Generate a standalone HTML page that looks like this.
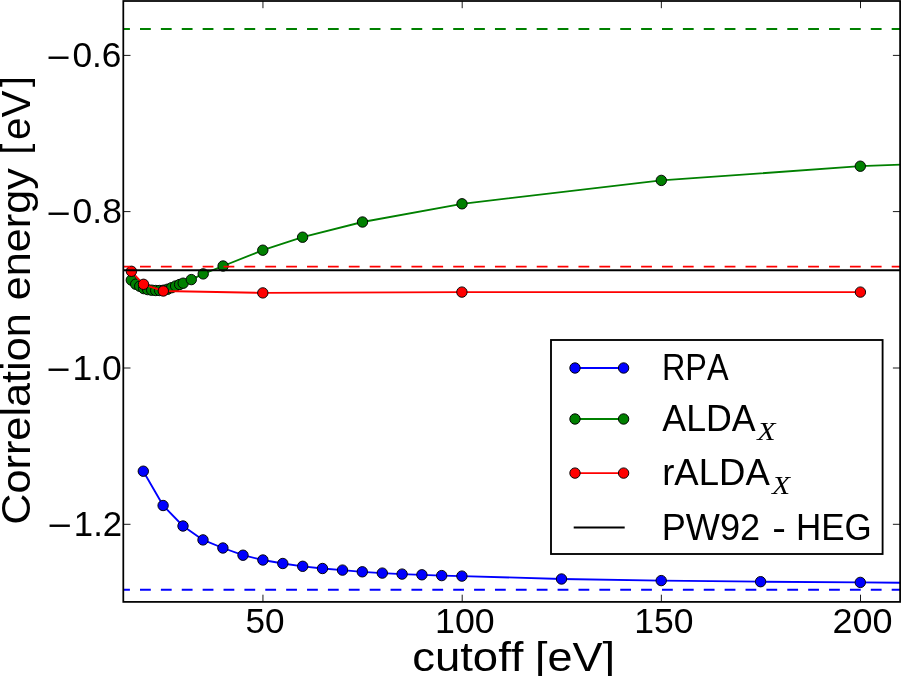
<!DOCTYPE html>
<html><head><meta charset="utf-8"><title>Correlation energy vs cutoff</title>
<style>html,body{margin:0;padding:0;background:#fff;width:901px;height:676px;overflow:hidden}svg{display:block;will-change:transform}text{font-kerning:none;font-feature-settings:"kern" 0}</style>
</head><body>
<svg width="901" height="676" viewBox="0 0 901 676"><rect width="901" height="676" fill="#fff"/>
<defs><clipPath id="ax"><rect x="123.3" y="1.0" width="776.80" height="600.90"/></clipPath></defs>
<g clip-path="url(#ax)">
<path d="M143.3,471.2 L163.1,505.5 L183.0,526.0 L203.0,539.9 L222.9,548.0 L243.0,555.2 L262.9,560.0 L282.8,563.5 L302.7,566.3 L322.5,568.5 L342.5,570.1 L362.3,571.8 L382.3,573.1 L402.1,574.1 L421.9,574.8 L441.7,575.6 L461.9,576.1 L561.5,579.0 L661.2,580.6 L760.6,581.7 L860.3,582.4 L940.0,583.0" fill="none" stroke="#0000ff" stroke-width="1.85" stroke-linejoin="round" stroke-linecap="butt"/>
<circle cx="143.3" cy="471.2" r="5.2" fill="#0000ff" stroke="#000" stroke-width="0.95"/><circle cx="163.1" cy="505.5" r="5.2" fill="#0000ff" stroke="#000" stroke-width="0.95"/><circle cx="183.0" cy="526.0" r="5.2" fill="#0000ff" stroke="#000" stroke-width="0.95"/><circle cx="203.0" cy="539.9" r="5.2" fill="#0000ff" stroke="#000" stroke-width="0.95"/><circle cx="222.9" cy="548.0" r="5.2" fill="#0000ff" stroke="#000" stroke-width="0.95"/><circle cx="243.0" cy="555.2" r="5.2" fill="#0000ff" stroke="#000" stroke-width="0.95"/><circle cx="262.9" cy="560.0" r="5.2" fill="#0000ff" stroke="#000" stroke-width="0.95"/><circle cx="282.8" cy="563.5" r="5.2" fill="#0000ff" stroke="#000" stroke-width="0.95"/><circle cx="302.7" cy="566.3" r="5.2" fill="#0000ff" stroke="#000" stroke-width="0.95"/><circle cx="322.5" cy="568.5" r="5.2" fill="#0000ff" stroke="#000" stroke-width="0.95"/><circle cx="342.5" cy="570.1" r="5.2" fill="#0000ff" stroke="#000" stroke-width="0.95"/><circle cx="362.3" cy="571.8" r="5.2" fill="#0000ff" stroke="#000" stroke-width="0.95"/><circle cx="382.3" cy="573.1" r="5.2" fill="#0000ff" stroke="#000" stroke-width="0.95"/><circle cx="402.1" cy="574.1" r="5.2" fill="#0000ff" stroke="#000" stroke-width="0.95"/><circle cx="421.9" cy="574.8" r="5.2" fill="#0000ff" stroke="#000" stroke-width="0.95"/><circle cx="441.7" cy="575.6" r="5.2" fill="#0000ff" stroke="#000" stroke-width="0.95"/><circle cx="461.9" cy="576.1" r="5.2" fill="#0000ff" stroke="#000" stroke-width="0.95"/><circle cx="561.5" cy="579.0" r="5.2" fill="#0000ff" stroke="#000" stroke-width="0.95"/><circle cx="661.2" cy="580.6" r="5.2" fill="#0000ff" stroke="#000" stroke-width="0.95"/><circle cx="760.6" cy="581.7" r="5.2" fill="#0000ff" stroke="#000" stroke-width="0.95"/><circle cx="860.3" cy="582.4" r="5.2" fill="#0000ff" stroke="#000" stroke-width="0.95"/>
<line x1="98.24" y1="589.7" x2="940" y2="589.7" stroke="#0000ff" stroke-width="1.85" stroke-dasharray="10.8 10.08"/>
<path d="M131.3,280.1 L135.7,284.2 L139.7,286.2 L143.7,288.6 L147.7,289.6 L151.7,290.2 L155.7,290.5 L159.6,290.5 L163.6,290.2 L167.6,289.2 L171.6,287.7 L175.6,286.0 L179.6,284.5 L183.2,283.2 L191.3,279.6 L203.2,273.9 L223.1,266.0 L262.8,250.2 L302.6,237.2 L362.5,222.0 L462.0,203.8 L661.3,180.4 L860.3,166.2 L940.0,163.2" fill="none" stroke="#008000" stroke-width="1.85" stroke-linejoin="round" stroke-linecap="butt"/>
<circle cx="131.3" cy="280.1" r="5.2" fill="#008000" stroke="#000" stroke-width="0.95"/><circle cx="135.7" cy="284.2" r="5.2" fill="#008000" stroke="#000" stroke-width="0.95"/><circle cx="139.7" cy="286.2" r="5.2" fill="#008000" stroke="#000" stroke-width="0.95"/><circle cx="143.7" cy="288.6" r="5.2" fill="#008000" stroke="#000" stroke-width="0.95"/><circle cx="147.7" cy="289.6" r="5.2" fill="#008000" stroke="#000" stroke-width="0.95"/><circle cx="151.7" cy="290.2" r="5.2" fill="#008000" stroke="#000" stroke-width="0.95"/><circle cx="155.7" cy="290.5" r="5.2" fill="#008000" stroke="#000" stroke-width="0.95"/><circle cx="159.6" cy="290.5" r="5.2" fill="#008000" stroke="#000" stroke-width="0.95"/><circle cx="163.6" cy="290.2" r="5.2" fill="#008000" stroke="#000" stroke-width="0.95"/><circle cx="167.6" cy="289.2" r="5.2" fill="#008000" stroke="#000" stroke-width="0.95"/><circle cx="171.6" cy="287.7" r="5.2" fill="#008000" stroke="#000" stroke-width="0.95"/><circle cx="175.6" cy="286.0" r="5.2" fill="#008000" stroke="#000" stroke-width="0.95"/><circle cx="179.6" cy="284.5" r="5.2" fill="#008000" stroke="#000" stroke-width="0.95"/><circle cx="183.2" cy="283.2" r="5.2" fill="#008000" stroke="#000" stroke-width="0.95"/><circle cx="191.3" cy="279.6" r="5.2" fill="#008000" stroke="#000" stroke-width="0.95"/><circle cx="203.2" cy="273.9" r="5.2" fill="#008000" stroke="#000" stroke-width="0.95"/><circle cx="223.1" cy="266.0" r="5.2" fill="#008000" stroke="#000" stroke-width="0.95"/><circle cx="262.8" cy="250.2" r="5.2" fill="#008000" stroke="#000" stroke-width="0.95"/><circle cx="302.6" cy="237.2" r="5.2" fill="#008000" stroke="#000" stroke-width="0.95"/><circle cx="362.5" cy="222.0" r="5.2" fill="#008000" stroke="#000" stroke-width="0.95"/><circle cx="462.0" cy="203.8" r="5.2" fill="#008000" stroke="#000" stroke-width="0.95"/><circle cx="661.3" cy="180.4" r="5.2" fill="#008000" stroke="#000" stroke-width="0.95"/><circle cx="860.3" cy="166.2" r="5.2" fill="#008000" stroke="#000" stroke-width="0.95"/>
<line x1="98.24" y1="29.0" x2="940" y2="29.0" stroke="#008000" stroke-width="1.85" stroke-dasharray="10.8 10.08"/>
<path d="M131.4,271.3 L143.5,284.3 L163.3,291.0 L262.8,292.9 L461.9,292.1 L860.4,292.1" fill="none" stroke="#ff0000" stroke-width="1.85" stroke-linejoin="round" stroke-linecap="butt"/>
<circle cx="131.4" cy="271.3" r="5.2" fill="#ff0000" stroke="#000" stroke-width="0.95"/><circle cx="143.5" cy="284.3" r="5.2" fill="#ff0000" stroke="#000" stroke-width="0.95"/><circle cx="163.3" cy="291.0" r="5.2" fill="#ff0000" stroke="#000" stroke-width="0.95"/><circle cx="262.8" cy="292.9" r="5.2" fill="#ff0000" stroke="#000" stroke-width="0.95"/><circle cx="461.9" cy="292.1" r="5.2" fill="#ff0000" stroke="#000" stroke-width="0.95"/><circle cx="860.4" cy="292.1" r="5.2" fill="#ff0000" stroke="#000" stroke-width="0.95"/>
<line x1="98.24" y1="266.6" x2="940" y2="266.6" stroke="#ff0000" stroke-width="1.85" stroke-dasharray="10.8 10.08"/>
<line x1="0" y1="270.25" x2="940" y2="270.25" stroke="#000" stroke-width="1.85"/>
</g>
<path d="M262.95,601.9v-7.2M262.95,1.0v7.2M462.2,601.9v-7.2M462.2,1.0v7.2M661.35,601.9v-7.2M661.35,1.0v7.2M860.5,601.9v-7.2M860.5,1.0v7.2M123.3,55.4h7.2M900.1,55.4h-7.2M123.3,211.6h7.2M900.1,211.6h-7.2M123.3,368.0h7.2M900.1,368.0h-7.2M123.3,524.3h7.2M900.1,524.3h-7.2" stroke="#000" stroke-width="0.9" fill="none"/>
<rect x="123.3" y="1.0" width="776.80" height="600.90" fill="none" stroke="#000" stroke-width="1.75"/>
<text transform="translate(46.87,68.52) scale(1.2037,1)" font-family="Liberation Sans, sans-serif" font-size="34.2">−</text>
<text transform="translate(72.42,67.00) scale(1.0312,1)" font-family="Liberation Sans, sans-serif" font-size="34.2" fill="#000">0.6</text>
<text transform="translate(46.75,224.72) scale(1.2157,1)" font-family="Liberation Sans, sans-serif" font-size="34.2">−</text>
<text transform="translate(72.61,223.20) scale(1.0376,1)" font-family="Liberation Sans, sans-serif" font-size="34.2" fill="#000">0.8</text>
<text transform="translate(46.87,381.12) scale(1.2037,1)" font-family="Liberation Sans, sans-serif" font-size="34.2">−</text>
<text transform="translate(72.39,379.60) scale(1.0390,1)" font-family="Liberation Sans, sans-serif" font-size="34.2" fill="#000">1.0</text>
<text transform="translate(47.64,537.42) scale(1.2217,1)" font-family="Liberation Sans, sans-serif" font-size="34.2">−</text>
<text transform="translate(73.85,535.90) scale(1.0158,1)" font-family="Liberation Sans, sans-serif" font-size="34.2" fill="#000">1.2</text>
<text transform="translate(245.39,632.50) scale(1.0273,1)" font-family="Liberation Sans, sans-serif" font-size="34.2" fill="#000">50</text>
<text transform="translate(435.08,632.50) scale(1.0448,1)" font-family="Liberation Sans, sans-serif" font-size="34.2" fill="#000">100</text>
<text transform="translate(634.29,632.50) scale(1.0392,1)" font-family="Liberation Sans, sans-serif" font-size="34.2" fill="#000">150</text>
<text transform="translate(832.39,632.50) scale(1.0536,1)" font-family="Liberation Sans, sans-serif" font-size="34.2" fill="#000">200</text>
<text transform="translate(412.17,670.90) scale(1.1205,1)" font-family="Liberation Sans, sans-serif" font-size="40.6" fill="#000">cutoff</text>
<text transform="translate(534.99,670.90) scale(1.1094,1)" font-family="Liberation Sans, sans-serif" font-size="40.6" fill="#000">[eV]</text>
<text transform="translate(29.60,524.70) rotate(-90) scale(1.0651,1.0000)" font-family="Liberation Sans, sans-serif" font-size="40.6">Correlation</text>
<text transform="translate(29.60,300.23) rotate(-90) scale(1.0635,1.0000)" font-family="Liberation Sans, sans-serif" font-size="40.6">energy</text>
<text transform="translate(27.04,86.90) rotate(-90) scale(0.9543,0.9049)" font-family="Liberation Sans, sans-serif" font-size="40.6">]</text>
<text transform="translate(29.60,140.02) rotate(-90) scale(0.9946,1.0000)" font-family="Liberation Sans, sans-serif" font-size="40.6">eV</text>
<text transform="translate(27.04,154.46) rotate(-90) scale(0.9543,0.9049)" font-family="Liberation Sans, sans-serif" font-size="40.6">[</text>
<rect x="551.0" y="340.0" width="331.6" height="214.0" fill="#fff" stroke="#000" stroke-width="1.85"/>
<line x1="575.0" y1="368.0" x2="623.6" y2="368.0" stroke="#0000ff" stroke-width="1.85"/>
<circle cx="575.0" cy="368.0" r="5.2" fill="#0000ff" stroke="#000" stroke-width="0.95"/><circle cx="623.6" cy="368.0" r="5.2" fill="#0000ff" stroke="#000" stroke-width="0.95"/>
<line x1="575.0" y1="419.0" x2="623.6" y2="419.0" stroke="#008000" stroke-width="1.85"/>
<circle cx="575.0" cy="419.0" r="5.2" fill="#008000" stroke="#000" stroke-width="0.95"/><circle cx="623.6" cy="419.0" r="5.2" fill="#008000" stroke="#000" stroke-width="0.95"/>
<line x1="575.0" y1="473.1" x2="623.6" y2="473.1" stroke="#ff0000" stroke-width="1.85"/>
<circle cx="575.0" cy="473.1" r="5.2" fill="#ff0000" stroke="#000" stroke-width="0.95"/><circle cx="623.6" cy="473.1" r="5.2" fill="#ff0000" stroke="#000" stroke-width="0.95"/>
<line x1="573.7" y1="527.5" x2="624.7" y2="527.5" stroke="#000" stroke-width="1.85"/>
<text transform="translate(661.94,380.30) scale(0.8805,1)" font-family="Liberation Sans, sans-serif" font-size="36.8" fill="#000">RPA</text>
<text transform="translate(662.33,430.60) scale(0.9709,1)" font-family="Liberation Sans, sans-serif" font-size="36.8" fill="#000">ALDA</text>
<text transform="translate(757.29,440.00) scale(1.1488,1)" font-family="Liberation Serif, serif" font-size="26" font-style="italic" fill="#000">X</text>
<text transform="translate(662.17,485.30) scale(0.9927,1)" font-family="Liberation Sans, sans-serif" font-size="36.8" fill="#000">rALDA</text>
<text transform="translate(771.98,494.10) scale(1.1375,1)" font-family="Liberation Serif, serif" font-size="26" font-style="italic" fill="#000">X</text>
<text transform="translate(661.74,540.00) scale(0.9817,1)" font-family="Liberation Sans, sans-serif" font-size="36.8" fill="#000">PW92</text>
<text transform="translate(772.18,540.00) scale(1.1130,1)" font-family="Liberation Sans, sans-serif" font-size="36.8" fill="#000">-</text>
<text transform="translate(796.03,540.00) scale(0.9503,1)" font-family="Liberation Sans, sans-serif" font-size="36.8" fill="#000">HEG</text></svg>
</body></html>
